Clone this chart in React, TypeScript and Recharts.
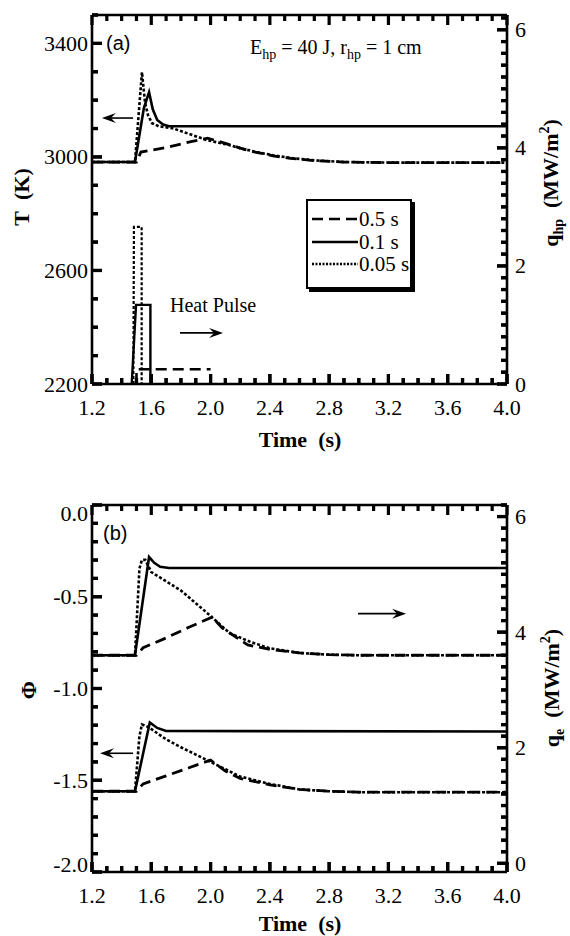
import React from 'react';
import { LineChart, Line, XAxis, YAxis, ReferenceLine, Legend } from 'recharts';

// time axis (s)
const timeTicks = [1.2, 1.6, 2.0, 2.4, 2.8, 3.2, 3.6, 4.0];
const tempTicks = [2200, 2600, 3000, 3400];
const fluxTicks = [0, 2, 4, 6];
const phiTicks = [-2.0, -1.5, -1.0, -0.5, 0.0];

const legendLabels = ['0.5 s', '0.1 s', '0.05 s'];

// (a) surface temperature T (K) vs time
const tempDashed: [number, number][] = [
  [1.2, 2982], [1.5, 2982], [1.53, 3017], [1.7, 3033], [1.86, 3053], [1.98, 3066],
  [2.1, 3048], [2.2, 3031], [2.3, 3017], [2.42, 3004], [2.54, 2995], [2.7, 2987],
  [2.9, 2982], [3.2, 2980], [4.0, 2980],
];
const tempSolid: [number, number][] = [
  [1.2, 2982], [1.49, 2982], [1.55, 3172], [1.585, 3228], [1.61, 3168], [1.64, 3130],
  [1.68, 3114], [1.72, 3108], [4.0, 3108],
];
const tempDotted: [number, number][] = [
  [1.2, 2982], [1.49, 2982], [1.537, 3299], [1.558, 3190], [1.578, 3147], [1.605, 3119],
  [1.65, 3108], [1.75, 3100], [1.85, 3082], [1.97, 3060], [2.1, 3045], [2.2, 3031],
  [2.3, 3018], [2.42, 3006], [2.54, 2996], [2.7, 2988], [2.9, 2982], [3.2, 2980], [4.0, 2980],
];

// (a) heat pulse q_hp (MW/m2)
const pulseDashed: [number, number][] = [[1.5, 0], [1.5, 0.25], [2.0, 0.25]];
const pulseSolid: [number, number][] = [[1.468, 0], [1.497, 1.34], [1.594, 1.34], [1.594, 0]];
const pulseDotted: [number, number][] = [[1.479, 0], [1.483, 2.66], [1.535, 2.66], [1.535, 0]];

// (b) potential Phi vs time
const phiDashed: [number, number][] = [
  [1.2, -1.56], [1.5, -1.56], [1.545, -1.52], [1.7, -1.476], [1.85, -1.433], [2.0, -1.39],
  [2.1, -1.45], [2.2, -1.49], [2.4, -1.525], [2.6, -1.55], [2.8, -1.56], [3.0, -1.565], [4.0, -1.565],
];
const phiSolid: [number, number][] = [
  [1.2, -1.56], [1.49, -1.56], [1.59, -1.185], [1.64, -1.215], [1.7, -1.232], [4.0, -1.234],
];
const phiDotted: [number, number][] = [
  [1.2, -1.56], [1.49, -1.56], [1.52, -1.26], [1.537, -1.196], [1.58, -1.21], [1.7, -1.277],
  [1.8, -1.32], [1.9, -1.36], [2.0, -1.4], [2.1, -1.44], [2.2, -1.48], [2.4, -1.52],
  [2.6, -1.55], [2.8, -1.56], [3.0, -1.565], [4.0, -1.565],
];

// (b) electron heat flux q_e (MW/m2)
const qeDashed: [number, number][] = [
  [1.2, 3.6], [1.5, 3.6], [1.545, 3.73], [1.7, 3.9], [1.85, 4.08], [2.01, 4.26], [2.08, 4.07],
  [2.25, 3.78], [2.4, 3.7], [2.6, 3.64], [2.8, 3.61], [3.0, 3.6], [4.0, 3.6],
];
const qeSolid: [number, number][] = [
  [1.2, 3.6], [1.49, 3.6], [1.585, 5.3], [1.62, 5.2], [1.66, 5.13], [1.72, 5.11], [4.0, 5.11],
];
const qeDotted: [number, number][] = [
  [1.2, 3.6], [1.49, 3.6], [1.52, 5.1], [1.537, 5.25], [1.56, 5.25], [1.6, 5.04], [1.7, 4.88],
  [1.8, 4.72], [1.9, 4.5], [2.0, 4.28], [2.13, 3.98], [2.27, 3.83], [2.4, 3.72], [2.6, 3.64],
  [2.8, 3.61], [3.0, 3.6], [4.0, 3.6],
];

// arrows: [fromT, toT, y]
const arrowsA: [number, number, number][] = [[1.477, 1.267, 3137], [1.794, 2.084, 2380]];
const arrowsB: [number, number, number][] = [[2.995, 3.319, -0.592], [1.477, 1.254, -1.353]];

const range = (a: number, b: number, step: number) => {
  const out: number[] = [];
  for (let i = 0; a + i * step <= b + 1e-9; i++) out.push(+(a + i * step).toFixed(3));
  return out;
};
const timeMinor = range(1.2, 4.0, 0.1);
const tempMinor = range(2200, 3500, 100);
const fluxMinor = range(0, 6.2, 0.2);
const phiMinor = range(-2.0, 0, 0.1);

const toPts = (arr: [number, number][]) => arr.map(([t, v]) => ({ t, v }));
const isIn = (arr: number[], v: number) => arr.some((m) => Math.abs(m - v) < 1e-6);

const SERIF = '"Liberation Serif", "Times New Roman", serif';
const axisStroke = { stroke: '#000', strokeWidth: 2.6 };

const DASH = '11 6';
const DOT = '3 2';

const MAJOR = 10;
const MINOR = 6;
const TICK_W = 3.2;

type Side = 'bottom' | 'top' | 'left' | 'right';

// axis ticks: inward mark for every value, label on majors; (x, y) is the axis line
const makeTick = (side: Side, majors: number[], fmt: (v: number) => string, edge?: [number, number]) => (props: any) => {
  const { x, y, payload } = props;
  const v = payload.value as number;
  const major = isIn(majors, v);
  const len = major ? MAJOR : MINOR;
  const tp = { fontFamily: SERIF, fontSize: 22, fill: '#000' };
  let dy = 7.5;
  if (edge && Math.abs(v - edge[1]) < 1e-6) dy += 8;
  if (edge && Math.abs(v - edge[0]) < 1e-6) dy -= 8;
  let d = '';
  let label: React.ReactNode = null;
  if (side === 'bottom') {
    d = `M${x},${y}v${-len}`;
    if (major) label = <text x={x} y={y + 31} textAnchor="middle" {...tp}>{fmt(v)}</text>;
  } else if (side === 'top') {
    d = `M${x},${y}v${len}`;
  } else if (side === 'left') {
    d = `M${x},${y}h${len}`;
    if (major) label = <text x={x - 4} y={y + dy} textAnchor="end" {...tp}>{fmt(v)}</text>;
  } else {
    d = `M${x},${y}h${-len}`;
    if (major) label = <text x={x + 8} y={y + dy} textAnchor="start" {...tp}>{fmt(v)}</text>;
  }
  return (
    <g>
      <path d={d} stroke="#000" strokeWidth={TICK_W} fill="none" />
      {label}
    </g>
  );
};

// the same inward marks again, as reference lines at the frame edges
const tickShape = (where: 'tb' | 'l' | 'r', len: number) => (props: any) => {
  const { x1, y1, x2, y2 } = props;
  let d = '';
  if (where === 'tb') {
    d = `M${x1},${Math.min(y1, y2)}v${len}M${x1},${Math.max(y1, y2)}v${-len}`;
  } else if (where === 'l') {
    d = `M${Math.min(x1, x2)},${y1}h${len}`;
  } else {
    d = `M${Math.max(x1, x2)},${y1}h${-len}`;
  }
  return <path d={d} stroke="#000" strokeWidth={TICK_W} fill="none" />;
};

const fmtDefault = (v: number) => String(v);
const fmt1 = (v: number) => v.toFixed(1);

const frame = (leftId: string, leftDomain: number[], leftTicks: number[], leftMinor: number[], leftFmt: (v: number) => string,
  rightDomain: number[], rightMinor: number[], edge?: [number, number]) => [
  <XAxis key="x" xAxisId="x" type="number" dataKey="t" domain={[1.2, 4.0]} ticks={timeMinor} interval={0} height={1}
    tickSize={0} tickMargin={0} axisLine={axisStroke} tickLine={false}
    tick={makeTick('bottom', timeTicks, fmt1)} allowDataOverflow />,
  <XAxis key="xt" xAxisId="xt" orientation="top" type="number" domain={[1.2, 4.0]} ticks={timeMinor} interval={0} height={1}
    tickSize={0} tickMargin={0} axisLine={axisStroke} tickLine={false}
    tick={makeTick('top', timeTicks, fmt1)} allowDataOverflow />,
  <YAxis key="l" yAxisId={leftId} type="number" domain={leftDomain} ticks={leftMinor} interval={0} width={1}
    tickSize={0} tickMargin={0} axisLine={axisStroke} tickLine={false}
    tick={makeTick('left', leftTicks, leftFmt, edge)} allowDataOverflow />,
  <YAxis key="r" yAxisId="r" orientation="right" type="number" domain={rightDomain} ticks={rightMinor} interval={0} width={1}
    tickSize={0} tickMargin={0} axisLine={axisStroke} tickLine={false}
    tick={makeTick('right', fluxTicks, fmtDefault)} allowDataOverflow />,
  ...timeMinor.map((t) => (
    <ReferenceLine key={'tx' + t} xAxisId="x" yAxisId={leftId} x={t} ifOverflow="visible"
      shape={tickShape('tb', isIn(timeTicks, t) ? MAJOR : MINOR)} />
  )),
  ...leftMinor.map((v) => (
    <ReferenceLine key={'tl' + v} xAxisId="x" yAxisId={leftId} y={v} ifOverflow="visible"
      shape={tickShape('l', isIn(leftTicks, v) ? MAJOR : MINOR)} />
  )),
  ...rightMinor.map((v) => (
    <ReferenceLine key={'tr' + v} xAxisId="x" yAxisId="r" y={v} ifOverflow="visible"
      shape={tickShape('r', isIn(fluxTicks, v) ? MAJOR : MINOR)} />
  )),
];

const series = (id: string, data: [number, number][], dash?: string, w = 2.6) => (
  <Line key={id + dash + data[2][0]} xAxisId="x" yAxisId={id} data={toPts(data)} dataKey="v" type="linear" stroke="#000"
    strokeWidth={w} strokeDasharray={dash} dot={false} activeDot={false} isAnimationActive={false} />
);

const Arrow = (props: any) => {
  const { x1, y1, x2, y2 } = props;
  const d = Math.sign(x2 - x1);
  return (
    <g>
      <line x1={x1} y1={y1} x2={x2 - d * 6} y2={y2} stroke="#000" strokeWidth={1.6} />
      <path d={`M${x2},${y2} L${x2 - d * 14},${y2 - 5} L${x2 - d * 9},${y2} L${x2 - d * 14},${y2 + 5} Z`} fill="#000" />
    </g>
  );
};

const LegendBox = () => {
  const dashes = [DASH, undefined, '2 1.5'];
  return (
    <div style={{ width: 106, height: 90, border: '2px solid #000', boxShadow: '3px 3px 0 #000', background: '#fff',
      boxSizing: 'border-box', padding: '7px 0 0 4px', fontFamily: SERIF, fontSize: 21 }}>
      {legendLabels.map((lab, i) => (
        <div key={lab} style={{ display: 'flex', alignItems: 'center', height: 22.5 }}>
          <svg width={46} height={10}>
            <line x1={0} y1={5} x2={46} y2={5} stroke="#000" strokeWidth={2.5} strokeDasharray={dashes[i]} />
          </svg>
          <span style={{ marginLeft: 1, lineHeight: '22px' }}>{lab}</span>
        </div>
      ))}
    </div>
  );
};

const abs = (left: number, top: number, extra: React.CSSProperties = {}): React.CSSProperties => ({
  position: 'absolute', left, top, whiteSpace: 'nowrap', color: '#000', ...extra,
});
const vert = (cx: number, cy: number): React.CSSProperties => abs(cx, cy, {
  transform: 'translate(-50%, -50%) rotate(-90deg)', fontFamily: SERIF, fontWeight: 'bold', fontSize: 22,
});
const subS: React.CSSProperties = { fontSize: 14, verticalAlign: '-0.35em' };
const supS: React.CSSProperties = { fontSize: 14, verticalAlign: '0.6em' };

export default function App() {
  return (
    <div style={{ position: 'absolute', left: 0, top: 0, width: 570, height: 936, background: '#fff' }}>
      <div style={{ position: 'absolute', left: 0, top: 0 }}>
        <LineChart width={570} height={460} margin={{ top: 14, right: 62, bottom: 75, left: 91 }}>
          {frame('T', [2200, 3500], tempTicks, tempMinor, fmtDefault, [0, 6.25], fluxMinor)}
          {series('T', tempDashed, DASH, 2.8)}
          {series('T', tempSolid)}
          {series('T', tempDotted, DOT)}
          {series('r', pulseDashed, DASH, 2.6)}
          {series('r', pulseSolid, undefined, 2.4)}
          {series('r', pulseDotted, DOT, 2.2)}
          {arrowsA.map(([a, b, y], i) => (
            <ReferenceLine key={i} xAxisId="x" yAxisId="T" segment={[{ x: a, y }, { x: b, y }]} shape={Arrow} ifOverflow="visible" />
          ))}
          <Legend layout="vertical" align="center" verticalAlign="middle"
            wrapperStyle={{ left: 306, top: 199, width: 110, height: 94 }} content={() => <LegendBox />} />
        </LineChart>
      </div>
      <div style={{ position: 'absolute', left: 0, top: 490 }}>
        <LineChart width={570} height={446} margin={{ top: 14, right: 62, bottom: 63, left: 91 }}>
          {frame('P', [-2, 0], phiTicks, phiMinor, fmt1, [-0.15, 6.2], range(0, 6.2, 0.2), [-2, 0])}
          {series('P', phiDashed, DASH, 2.8)}
          {series('P', phiSolid)}
          {series('P', phiDotted, DOT)}
          {series('r', qeDashed, DASH, 2.8)}
          {series('r', qeSolid)}
          {series('r', qeDotted, DOT)}
          {arrowsB.map(([a, b, y], i) => (
            <ReferenceLine key={i} xAxisId="x" yAxisId="P" segment={[{ x: a, y }, { x: b, y }]} shape={Arrow} ifOverflow="visible" />
          ))}
        </LineChart>
      </div>

      {/* panel (a) text */}
      <div style={abs(106, 30, { fontFamily: '"Liberation Sans", Arial, sans-serif', fontSize: 20, lineHeight: '26px' })}>(a)</div>
      <div style={abs(250, 34, { fontFamily: SERIF, fontSize: 20, lineHeight: '26px' })}>
        E<span style={subS}>hp</span> = 40 J, r<span style={subS}>hp</span> = 1 cm
      </div>
      <div style={abs(170, 292, { fontFamily: SERIF, fontSize: 20, lineHeight: '26px' })}>Heat Pulse</div>
      <div style={vert(22, 197)}>T&nbsp; (K)</div>
      <div style={vert(552, 183)}>q<span style={subS}>hp</span>&nbsp; (MW/m<span style={supS}>2</span>)</div>
      <div style={abs(300, 440, { transform: 'translate(-50%, -50%)', fontFamily: SERIF, fontWeight: 'bold', fontSize: 22 })}>Time&nbsp; (s)</div>

      {/* panel (b) text */}
      <div style={abs(103, 520, { fontFamily: '"Liberation Sans", Arial, sans-serif', fontSize: 20, lineHeight: '26px' })}>(b)</div>
      <div style={vert(29, 690)}>Φ</div>
      <div style={vert(553, 688)}>q<span style={subS}>e</span>&nbsp; (MW/m<span style={supS}>2</span>)</div>
      <div style={abs(300, 924, { transform: 'translate(-50%, -50%)', fontFamily: SERIF, fontWeight: 'bold', fontSize: 22 })}>Time&nbsp; (s)</div>
    </div>
  );
}
